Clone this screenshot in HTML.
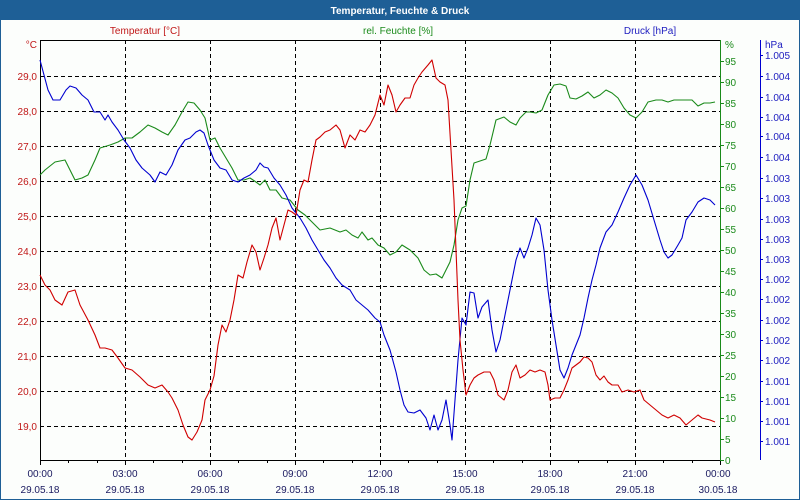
<!DOCTYPE html>
<html><head><meta charset="utf-8"><style>
html,body{margin:0;padding:0;background:#fff}
svg{display:block}
text{font-family:"Liberation Sans",sans-serif;font-size:10px}
</style></head><body>
<svg width="800" height="500" xmlns="http://www.w3.org/2000/svg">
<rect x="0" y="0" width="800" height="500" fill="#fcfefc"/>
<rect x="0.5" y="0.5" width="799" height="499" fill="none" stroke="#1e5f96" stroke-width="1"/>
<rect x="0" y="0" width="800" height="20" fill="#1e5f96"/>
<text x="400" y="14" fill="#fff" text-anchor="middle" font-weight="bold" style="font-size:10px">Temperatur, Feuchte &amp; Druck</text>
<text x="145" y="34" fill="#c01818" text-anchor="middle">Temperatur [°C]</text>
<text x="398" y="34" fill="#1a8a1a" text-anchor="middle">rel. Feuchte [%]</text>
<text x="650" y="34" fill="#2020c0" text-anchor="middle">Druck [hPa]</text>
<g stroke="#000" stroke-width="1" stroke-dasharray="4,3" fill="none">
<path d="M40 76.5H720M40 111.5H720M40 146.5H720M40 181.5H720M40 216.5H720M40 251.5H720M40 286.5H720M40 321.5H720M40 356.5H720M40 391.5H720M40 426.5H720"/>
<path d="M125.5 40V460M210.5 40V460M295.5 40V460M380.5 40V460M465.5 40V460M550.5 40V460M635.5 40V460"/>
</g>
<path d="M40.5 40V460.5H720M40 40.5H720" stroke="#000" fill="none"/>
<g stroke="#000"><path d="M40.5 460v5M68.5 460v3M97.5 460v3M125.5 460v5M153.5 460v3M182.5 460v3M210.5 460v5M238.5 460v3M267.5 460v3M295.5 460v5M323.5 460v3M352.5 460v3M380.5 460v5M408.5 460v3M437.5 460v3M465.5 460v5M493.5 460v3M522.5 460v3M550.5 460v5M578.5 460v3M607.5 460v3M635.5 460v5M663.5 460v3M692.5 460v3M720.5 460v5"/></g>
<g fill="#c01818" text-anchor="end">
<text x="37" y="48">°C</text>
<text x="37" y="80">29,0</text><text x="37" y="115">28,0</text><text x="37" y="150">27,0</text><text x="37" y="185">26,0</text><text x="37" y="220">25,0</text><text x="37" y="255">24,0</text><text x="37" y="290">23,0</text><text x="37" y="325">22,0</text><text x="37" y="360">21,0</text><text x="37" y="395">20,0</text><text x="37" y="430">19,0</text>
</g>
<g fill="#1a1a60" text-anchor="middle">
<text x="40" y="477">00:00</text><text x="125" y="477">03:00</text><text x="210" y="477">06:00</text><text x="295" y="477">09:00</text><text x="380" y="477">12:00</text><text x="465" y="477">15:00</text><text x="550" y="477">18:00</text><text x="635" y="477">21:00</text><text x="718" y="477">00:00</text>
<text x="40" y="493">29.05.18</text><text x="125" y="493">29.05.18</text><text x="210" y="493">29.05.18</text><text x="295" y="493">29.05.18</text><text x="380" y="493">29.05.18</text><text x="465" y="493">29.05.18</text><text x="550" y="493">29.05.18</text><text x="635" y="493">29.05.18</text><text x="718" y="493">30.05.18</text>
</g>
<path d="M720.5 40V461" stroke="#1a8a1a"/>
<g stroke="#1a8a1a"><path d="M720 460.5h4M720 439.5h4M720 418.5h4M720 397.5h4M720 376.5h4M720 355.5h4M720 334.5h4M720 313.5h4M720 292.5h4M720 271.5h4M720 250.5h4M720 229.5h4M720 208.5h4M720 187.5h4M720 166.5h4M720 145.5h4M720 124.5h4M720 103.5h4M720 82.5h4M720 61.5h4"/></g>
<g fill="#1a8a1a">
<text x="725" y="48">%</text>
<text x="725" y="65">95</text><text x="725" y="86">90</text><text x="725" y="107">85</text><text x="725" y="128">80</text><text x="725" y="149">75</text><text x="725" y="170">70</text><text x="725" y="191">65</text><text x="725" y="212">60</text><text x="725" y="233">55</text><text x="725" y="254">50</text><text x="725" y="275">45</text><text x="725" y="296">40</text><text x="725" y="317">35</text><text x="725" y="338">30</text><text x="725" y="359">25</text><text x="725" y="380">20</text><text x="725" y="401">15</text><text x="725" y="422">10</text><text x="725" y="443">5</text><text x="725" y="464">0</text>
</g>
<path d="M760.5 40V460" stroke="#0000d0"/>
<g fill="#2020c0">
<text x="765" y="48">hPa</text>
<text x="765" y="59">1.005</text><text x="765" y="80">1.004</text><text x="765" y="101">1.004</text><text x="765" y="121">1.004</text><text x="765" y="140">1.004</text><text x="765" y="161">1.004</text><text x="765" y="182">1.003</text><text x="765" y="202">1.003</text><text x="765" y="223">1.003</text><text x="765" y="243">1.003</text><text x="765" y="263">1.003</text><text x="765" y="283">1.002</text><text x="765" y="303">1.002</text><text x="765" y="324">1.002</text><text x="765" y="344">1.002</text><text x="765" y="364">1.002</text><text x="765" y="385">1.001</text><text x="765" y="405">1.001</text><text x="765" y="425">1.001</text><text x="765" y="445">1.001</text>
</g>
<g stroke="#0000d0"><path d="M760 55.5h3M760 76.5h3M760 97.5h3M760 117.5h3M760 136.5h3M760 157.5h3M760 178.5h3M760 198.5h3M760 219.5h3M760 239.5h3M760 259.5h3M760 279.5h3M760 299.5h3M760 320.5h3M760 340.5h3M760 360.5h3M760 381.5h3M760 401.5h3M760 421.5h3M760 441.5h3"/></g>
<g fill="none" stroke-width="1.1" stroke-linejoin="round">
<polyline stroke="#1a8a1a" points="40,175 45,170 55,162 65,160 70,170 75,180 82,178 88,175 95,160 100,148 110,145 118,142 125,138 132,138 140,132 148,125 155,128 162,132 168,135 175,125 182,112 188,102 194,103 200,110 205,118 210,140 215,138 220,148 226,158 232,168 238,180 244,180 250,178 256,182 260,185 265,180 270,190 276,190 282,198 290,200 298,210 305,215 312,222 320,230 330,228 340,232 346,230 352,235 358,238 362,232 368,240 372,238 378,245 384,248 390,255 396,252 402,245 410,250 418,258 424,270 430,275 436,274 442,278 446,270 450,262 454,245 458,220 462,208 466,206 470,180 474,163 480,161 486,159 490,145 496,120 504,117 510,122 516,125 520,118 526,112 530,112 536,113 542,110 548,95 554,85 560,84 566,86 570,98 576,99 582,96 588,92 594,98 600,95 606,90 612,93 618,98 624,108 630,115 636,118 642,112 648,102 656,100 662,100 668,102 674,100 680,100 686,100 692,100 698,106 704,103 710,103 715,102"/>
<polyline stroke="#0000d0" points="40,60 44,75 48,90 53,100 60,100 66,90 70,86 76,88 82,95 88,100 94,112 100,112 105,120 108,115 112,122 118,130 124,140 130,148 136,160 142,168 150,175 155,182 160,172 166,175 172,165 178,150 185,140 190,138 196,132 200,130 204,133 208,145 214,160 220,168 226,170 232,180 238,182 244,178 250,175 256,170 260,163 264,167 268,168 274,178 280,185 286,195 292,208 300,218 306,228 312,240 318,250 324,260 330,268 336,278 342,285 350,290 356,300 362,305 368,310 375,318 380,322 384,335 390,350 396,372 400,390 404,405 408,412 414,413 420,410 426,418 430,430 434,415 438,430 442,420 446,400 450,425 452,440 455,400 458,360 462,318 466,325 470,292 474,293 478,318 482,307 488,300 492,330 496,352 500,340 504,320 508,300 512,280 516,260 520,248 524,258 528,248 532,235 536,218 540,225 544,250 548,290 552,320 556,345 560,370 564,378 568,368 572,355 576,345 580,335 584,318 588,298 592,280 596,265 600,248 606,232 612,225 618,212 624,198 630,185 636,175 642,185 648,200 654,220 660,240 664,252 668,258 672,255 678,245 682,238 686,220 692,212 698,202 704,198 710,200 715,205"/>
<polyline stroke="#d00000" points="40,275 45,285 50,290 55,300 62,305 68,292 75,290 80,305 88,320 95,335 100,348 105,348 112,350 118,358 125,368 132,370 140,377 148,385 155,388 162,385 168,392 172,398 178,410 183,425 188,437 192,440 197,432 202,420 205,400 210,390 214,376 218,345 222,325 226,332 230,320 234,300 238,275 243,278 247,262 252,245 256,252 260,270 264,258 268,245 272,228 276,218 280,240 284,225 288,210 292,212 296,215 300,190 304,180 308,182 312,160 316,140 320,137 325,132 330,130 336,125 340,130 345,148 350,135 355,140 360,130 365,132 370,125 375,115 380,95 384,105 388,85 392,95 396,112 400,105 405,98 410,98 414,85 418,78 422,72 428,65 432,60 436,78 440,82 445,85 448,100 451,150 454,200 456,250 458,300 460,340 463,370 466,395 470,385 474,378 478,375 484,372 490,372 494,380 498,395 504,400 508,390 512,372 516,365 520,378 525,375 530,370 535,372 540,370 545,372 548,385 550,400 555,398 560,398 564,390 568,380 572,368 576,365 580,362 584,357 588,358 592,362 596,375 600,380 604,376 608,382 612,385 618,385 622,392 628,390 634,392 640,390 644,400 650,405 656,410 662,415 668,418 674,415 680,418 686,425 692,420 698,415 702,418 710,420 715,422"/>
</g>
</svg>
</body></html>
